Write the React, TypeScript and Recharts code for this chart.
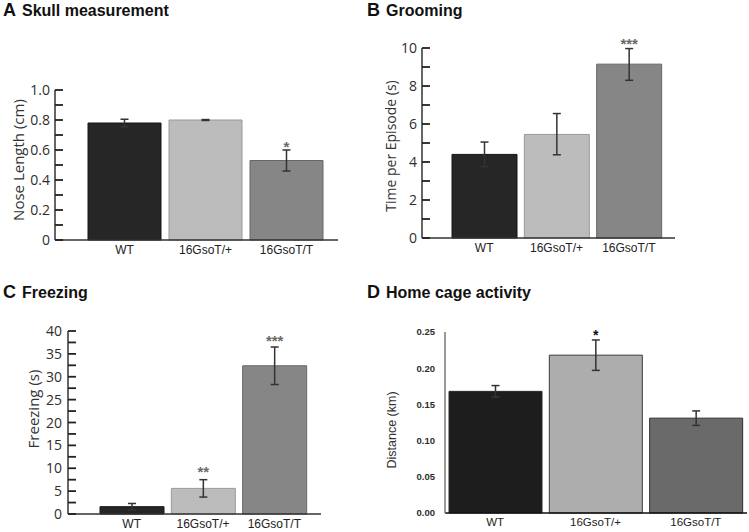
import React from 'react';
import { ComposedChart, Bar, XAxis, YAxis, ErrorBar, Cell, LabelList } from 'recharts';

const GROUPS = ['WT', '16GsoT/+', '16GsoT/T'];

// A: skull measurement
const NOSE = [0.78, 0.8, 0.53];
const NOSE_ERR = [[0.025, 0.025], [0.003, 0.003], [0.07, 0.07]];
const NOSE_SIG = ['', '', '*'];
const NOSE_SIG_Y = [0, 0, 0.645];
const NOSE_TICKS = [0, 0.1, 0.2, 0.3, 0.4, 0.5, 0.6, 0.7, 0.8, 0.9, 1.0];
const NOSE_MAJOR = [0, 0.2, 0.4, 0.6, 0.8, 1.0];
const NOSE_LABELS = ['0', '0.2', '0.4', '0.6', '0.8', '1.0'];

// B: grooming
const GROOM = [4.4, 5.45, 9.15];
const GROOM_ERR = [[0.65, 0.65], [1.07, 1.1], [0.85, 0.82]];
const GROOM_SIG = ['', '', '***'];
const GROOM_SIG_Y = [0, 0, 10.4];
const GROOM_TICKS = [0, 1, 2, 3, 4, 5, 6, 7, 8, 9, 10];
const GROOM_MAJOR = [0, 2, 4, 6, 8, 10];
const GROOM_LABELS = ['0', '2', '4', '6', '8', '10'];

// C: freezing
const FREEZE = [1.6, 5.6, 32.4];
const FREEZE_ERR = [[0.7, 0.7], [1.9, 1.9], [4.1, 4.1]];
const FREEZE_SIG = ['', '**', '***'];
const FREEZE_SIG_Y = [0, 9.8, 38.6];
const FREEZE_TICKS = [0, 2.5, 5, 7.5, 10, 12.5, 15, 17.5, 20, 22.5, 25, 27.5, 30, 32.5, 35, 37.5, 40];
const FREEZE_MAJOR = [0, 5, 10, 15, 20, 25, 30, 35, 40];
const FREEZE_LABELS = ['0', '5', '10', '15', '20', '25', '30', '35', '40'];

// D: home cage activity
const DIST = [0.168, 0.218, 0.131];
const DIST_ERR = [[0.008, 0.008], [0.021, 0.021], [0.01, 0.01]];
const DIST_SIG = ['', '*', ''];
const DIST_SIG_Y = [0, 0.25, 0];
const DIST_TICKS = [0, 0.05, 0.1, 0.15, 0.2, 0.25];
const DIST_MAJOR = [0, 0.05, 0.1, 0.15, 0.2, 0.25];
const DIST_LABELS = ['0.00', '0.05', '0.10', '0.15', '0.20', '0.25'];

const FILLS_ABC = ['#262626', '#bcbcbc', '#868686'];
const STROKES_ABC = ['#141414', '#999999', '#676767'];
const FILLS_D = ['#1d1d1d', '#adadad', '#6a6a6a'];
const STROKES_D = ['#2a2a2a', '#3a3a3a', '#2e2e2e'];

const NUM_FONT = '"Open Sans", sans-serif';
const ARIAL = '"Liberation Sans", Arial, sans-serif';

function build(vals: number[], errs: number[][], sig: string[], sigY: number[]) {
  return GROUPS.map((name, i) => ({ name, value: vals[i], err: errs[i], sig: sig[i], sigY: sigY[i] }));
}

type Panel = {
  left: number;
  top: number;
  width: number;
  height: number;
  marginTop: number;
  marginRight: number;
  yWidth: number;
  xHeight: number;
  pad: { left: number; right: number };
  barSize: number;
  domain: [number, number];
  ticks: number[];
  major: number[];
  labels: string[];
  data: ReturnType<typeof build>;
  fills: string[];
  strokes: string[];
  yLabel: string;
  yLabelPos: [number, number];
  yLabelSize: number;
  tickFont: string;
  fontPx: number;
  tickWeight: number;
  gap: number;
  inwardTicks: boolean;
  catSize: number;
  axisColor: string;
  xAxisColor: string;
  sigColor: string;
  sigSize: number;
  labelFont: string;
};

const TICK_LEN = 8;

function Chart(p: Panel) {
  const tick = (props: any) => {
    const { x, y, payload } = props;
    const v = payload.value as number;
    const idx = p.major.findIndex((m) => Math.abs(m - v) < 1e-9);
    return (
      <text
        x={x}
        y={y}
        dy="0.36em"
        textAnchor="end"
        fontFamily={p.tickFont}
        fontSize={p.fontPx}
        fontWeight={p.tickWeight}
        fill="#2e2e2e"
      >
        {idx >= 0 ? p.labels[idx] : ''}
      </text>
    );
  };

  const sig = (props: any) => {
    const vb = props.viewBox ?? props;
    const { x, y, width, height } = vb;
    const d = p.data[props.index];
    if (!d || !d.sig) return null;
    const base = y + height;
    const py = base - (d.sigY / d.value) * height;
    return (
      <text
        x={x + width / 2}
        y={py}
        dy="0.55em"
        textAnchor="middle"
        fontFamily={ARIAL}
        fontSize={p.sigSize}
        fontWeight="bold"
        fill={p.sigColor}
      >
        {d.sig}
      </text>
    );
  };

  const size = p.inwardTicks ? -TICK_LEN : 0;

  return (
    <div style={{ position: 'absolute', left: p.left, top: p.top, width: p.width, height: p.height }}>
      <ComposedChart
        width={p.width}
        height={p.height}
        data={p.data}
        margin={{ top: p.marginTop, right: p.marginRight, bottom: 0, left: 0 }}
      >
        <XAxis
          dataKey="name"
          height={p.xHeight}
          padding={p.pad}
          tickLine={false}
          tickSize={0}
          tickMargin={5}
          axisLine={{ stroke: p.xAxisColor, strokeWidth: 1.4 }}
          tick={{ fontFamily: ARIAL, fontSize: p.catSize, fill: '#222' }}
          interval={0}
        />
        <YAxis
          width={p.yWidth}
          domain={p.domain}
          ticks={p.ticks}
          interval={0}
          axisLine={{ stroke: p.axisColor, strokeWidth: 1.5 }}
          tickLine={p.inwardTicks ? { stroke: '#222', strokeWidth: 1.8 } : false}
          tickSize={size}
          tickMargin={p.gap - size}
          tick={tick}
        />
        <Bar dataKey="value" barSize={p.barSize} isAnimationActive={false}>
          {p.data.map((d, i) => (
            <Cell key={d.name} fill={p.fills[i]} stroke={p.strokes[i]} strokeWidth={1} />
          ))}
          <ErrorBar dataKey="err" width={4} stroke="#333" strokeWidth={1.5} direction="y" />
          <LabelList dataKey="sig" content={sig} />
        </Bar>
      </ComposedChart>
      <div
        style={{
          position: 'absolute',
          left: p.yLabelPos[0],
          top: p.yLabelPos[1],
          transform: 'translate(-50%, -50%) rotate(-90deg)',
          fontFamily: p.labelFont,
          fontSize: p.yLabelSize,
          color: '#333',
          whiteSpace: 'nowrap',
          lineHeight: 1,
        }}
      >
        {p.yLabel}
      </div>
    </div>
  );
}

const common = {
  tickFont: NUM_FONT,
  tickWeight: 400,
  inwardTicks: true,
  catSize: 12,
  axisColor: '#333333',
  xAxisColor: '#333333',
  sigColor: '#6a6a6a',
  sigSize: 15,
  labelFont: NUM_FONT,
};

const PANELS: Panel[] = [
  {
    ...common,
    left: 0, top: 0, width: 345, height: 266, marginTop: 90, marginRight: 7, yWidth: 55, xHeight: 26,
    pad: { left: 29, right: 11 }, barSize: 73, domain: [0, 1], ticks: NOSE_TICKS, major: NOSE_MAJOR,
    labels: NOSE_LABELS, data: build(NOSE, NOSE_ERR, NOSE_SIG, NOSE_SIG_Y), fills: FILLS_ABC, strokes: STROKES_ABC,
    yLabel: 'Nose Length (cm)', yLabelPos: [18, 160], yLabelSize: 15, fontPx: 14, gap: 5,
  },
  {
    ...common,
    left: 375, top: 0, width: 310, height: 266, marginTop: 48, marginRight: 10, yWidth: 47, xHeight: 28,
    pad: { left: 26, right: 10 }, barSize: 65, domain: [0, 10], ticks: GROOM_TICKS, major: GROOM_MAJOR,
    labels: GROOM_LABELS, data: build(GROOM, GROOM_ERR, GROOM_SIG, GROOM_SIG_Y), fills: FILLS_ABC, strokes: STROKES_ABC,
    yLabel: 'Time per Episode (s)', yLabelPos: [16, 146], yLabelSize: 14, fontPx: 14, gap: 5,
  },
  {
    ...common,
    left: 0, top: 266, width: 330, height: 266, marginTop: 65, marginRight: 9, yWidth: 68, xHeight: 18,
    pad: { left: 28, right: 11 }, barSize: 64, domain: [0, 40], ticks: FREEZE_TICKS, major: FREEZE_MAJOR,
    labels: FREEZE_LABELS, data: build(FREEZE, FREEZE_ERR, FREEZE_SIG, FREEZE_SIG_Y), fills: FILLS_ABC, strokes: STROKES_ABC,
    yLabel: 'Freezing (s)', yLabelPos: [33, 143], yLabelSize: 15, fontPx: 14, gap: 6,
  },
  {
    ...common,
    left: 375, top: 266, width: 374, height: 266, marginTop: 66, marginRight: 2, yWidth: 70, xHeight: 19,
    pad: { left: 0, right: 1 }, barSize: 93, domain: [0, 0.25], ticks: DIST_TICKS, major: DIST_MAJOR,
    labels: DIST_LABELS, data: build(DIST, DIST_ERR, DIST_SIG, DIST_SIG_Y), fills: FILLS_D, strokes: STROKES_D,
    yLabel: 'Distance (km)', yLabelPos: [17, 164], yLabelSize: 12.5, fontPx: 9.5, gap: 10,
    tickFont: ARIAL, tickWeight: 700, inwardTicks: false, catSize: 11.5, axisColor: '#777', xAxisColor: '#111',
    sigColor: '#111', sigSize: 14, labelFont: ARIAL,
  },
];

const TITLES = [
  { letter: 'A', text: 'Skull measurement', left: 3, top: 0 },
  { letter: 'B', text: 'Grooming', left: 367, top: 0 },
  { letter: 'C', text: 'Freezing', left: 3, top: 282 },
  { letter: 'D', text: 'Home cage activity', left: 367, top: 282 },
];

export default function App() {
  return (
    <div style={{ position: 'absolute', left: 0, top: 0, width: 749, height: 532, background: '#fff', overflow: 'hidden' }}>
      {TITLES.map((t) => (
        <div
          key={t.letter}
          style={{
            position: 'absolute',
            left: t.left,
            top: t.top,
            fontFamily: ARIAL,
            fontWeight: 700,
            color: '#111',
            whiteSpace: 'nowrap',
            lineHeight: '20px',
          }}
        >
          <span style={{ fontSize: 18 }}>{t.letter}</span>
          <span style={{ fontSize: 16, marginLeft: 6 }}>{t.text}</span>
        </div>
      ))}
      {PANELS.map((p, i) => (
        <Chart key={i} {...p} />
      ))}
    </div>
  );
}
